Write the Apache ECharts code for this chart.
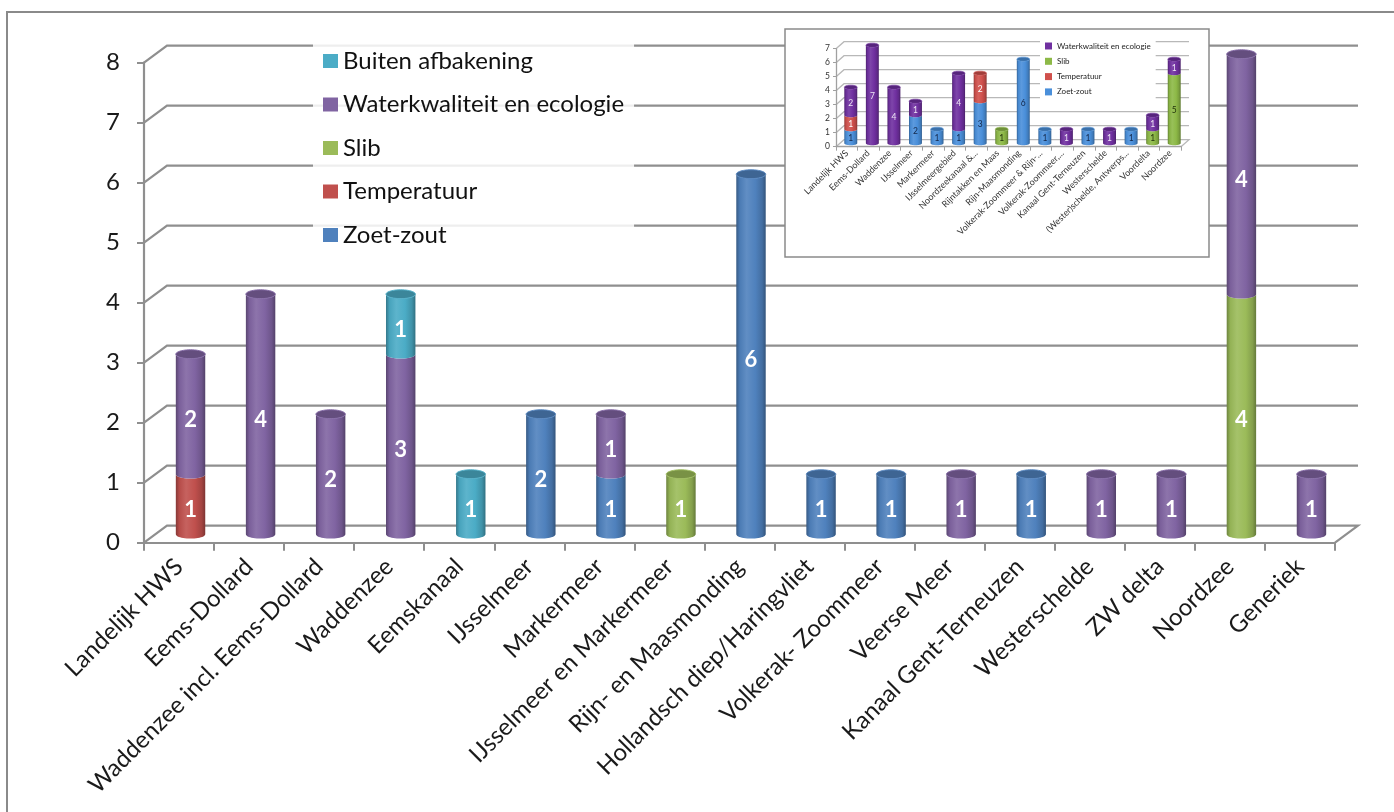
<!DOCTYPE html>
<html><head><meta charset="utf-8">
<script src="https://cdn.jsdelivr.net/npm/echarts@6/dist/echarts.min.js"></script>
<style>html,body{margin:0;padding:0;background:#fff}#c{width:1394px;height:812px}</style>
</head><body><div id="c"></div>
<script>
// ---------- main chart data ----------
const categories = ['Landelijk HWS','Eems-Dollard','Waddenzee incl. Eems-Dollard','Waddenzee','Eemskanaal','IJsselmeer','Markermeer','IJsselmeer en Markermeer','Rijn- en Maasmonding','Hollandsch diep/Haringvliet','Volkerak- Zoommeer','Veerse Meer','Kanaal Gent-Terneuzen','Westerschelde','ZW delta','Noordzee','Generiek'];
const zoetZout         = [0,0,0,0,0,2,1,0,6,1,1,0,1,0,0,0,0];
const temperatuur      = [1,0,0,0,0,0,0,0,0,0,0,0,0,0,0,0,0];
const slib             = [0,0,0,0,0,0,0,1,0,0,0,0,0,0,0,4,0];
const waterkwaliteit   = [2,4,2,3,0,0,1,0,0,0,0,1,0,1,1,4,1];
const buitenAfbakening = [0,0,0,1,1,0,0,0,0,0,0,0,0,0,0,0,0];
const yTicks = [0,1,2,3,4,5,6,7,8];

// ---------- inset chart data ----------
const insetCategories = ['Landelijk HWS','Eems-Dollard','Waddenzee','IJsselmeer','Markermeer','IJsselmeergebied','Noordzeekanaal &...','Rijntakken en Maas','Rijn-Maasmonding','Volkerak-Zoommeer & Rijn-...','Volkerak-Zoommeer,...','Kanaal Gent-Terneuzen','Westerschelde','(Wester)schelde, Antwerps...','Voordelta','Noordzee'];
const insetZoetZout       = [1,0,0,2,1,1,3,0,6,1,0,1,0,1,0,0];
const insetTemperatuur    = [1,0,0,0,0,0,2,0,0,0,0,0,0,0,0,0];
const insetSlib           = [0,0,0,0,0,0,0,1,0,0,0,0,0,0,1,5];
const insetWaterkwaliteit = [2,7,4,1,0,4,0,0,0,0,1,0,1,0,1,1];
const insetYTicks = [0,1,2,3,4,5,6,7];

// ---------- helpers ----------
function shade(hex, amt){
  const n = parseInt(hex.slice(1),16);
  let r=(n>>16)&255,g=(n>>8)&255,b=n&255;
  const t = amt<0?0:255, p=Math.abs(amt);
  r=Math.round(r+(t-r)*p); g=Math.round(g+(t-g)*p); b=Math.round(b+(t-b)*p);
  return 'rgb('+r+','+g+','+b+')';
}
function stackData(list){
  const n = list[0].values.length;
  const base = new Array(n).fill(0);
  const topIdx = new Array(n).fill(-1);
  list.forEach((s,si)=>s.values.forEach((v,i)=>{ if(v>0) topIdx[i]=si; }));
  return list.map((s,si)=>{
    const d=[];
    s.values.forEach((v,i)=>{ if(v>0){ d.push([i, base[i], v, topIdx[i]===si?1:0]); } base[i]+=v; });
    return d;
  });
}
function makeCyl(cfg){
  return function(params, api){
    const i=api.value(0), b=api.value(1), v=api.value(2), isTop=api.value(3);
    const p0=api.coord([i,b]), p1=api.coord([i,b+v]);
    const w=api.size([1,0])[0]*cfg.wr;
    const rx=w/2, ry=w*cfg.ryr;
    const cx=p0[0]+cfg.dx/2, yb=p0[1]-cfg.dy/2, yt=p1[1]-cfg.dy/2;
    const N=24, pts=[[cx-rx,yt]];
    for(let k=0;k<=N;k++){const a=Math.PI*(1-k/N); pts.push([cx+rx*Math.cos(a), yb+ry*Math.sin(a)]);}
    for(let k=0;k<=N;k++){const a=Math.PI*k/N; pts.push([cx+rx*Math.cos(a), yt+ry*Math.sin(a)]);}
    const c=cfg.color;
    const children=[{
      type:'polygon', shape:{points:pts},
      style:{fill:new echarts.graphic.LinearGradient(0,0,1,0,[
        {offset:0,color:shade(c,-0.3)},{offset:0.12,color:shade(c,-0.05)},
        {offset:0.35,color:shade(c,0.1)},{offset:0.65,color:c},
        {offset:0.88,color:shade(c,-0.15)},{offset:1,color:shade(c,-0.35)}])}
    }];
    if(isTop){
      const cap=[];
      for(let k=0;k<2*N;k++){const a=Math.PI*k/N; cap.push([cx+rx*Math.cos(a), yt+ry*Math.sin(a)]);}
      children.push({type:'polygon', shape:{points:cap},
        style:{fill:shade(c,-0.22), stroke:shade(c,0.05), lineWidth:cfg.capLw}});
    }
    children.push({type:'text', z2:10, style:{text:String(v), x:cx, y:(yt+yb)/2+ry+cfg.labelDy,
      align:'center', verticalAlign:'middle', fill:cfg.labelColor,
      fontSize:cfg.fontSize, fontWeight:cfg.fontWeight, fontFamily:'Lato'}});
    return {type:'group', children};
  };
}
function makeFrame(cfg){
  return function(params, api){
    const cs=params.coordSys; const v=api.value(1);
    const y=api.coord([0,v])[1]; const x0=cs.x, x1=cs.x+cs.width;
    const pts=[[x0,y],[x0+cfg.dx,y-cfg.dy],[x1+cfg.dx,y-cfg.dy]];
    if(v===0) pts.push([x1,y]);
    return {type:'polyline', shape:{points:pts}, style:{stroke:cfg.color, lineWidth:cfg.lw, fill:null}};
  };
}

// ---------- build series ----------
const MAIN = {dx:23, dy:17};
const mainDefs = [
  {name:'Zoet-zout', values:zoetZout, color:'#4F81BD'},
  {name:'Temperatuur', values:temperatuur, color:'#C0504D'},
  {name:'Slib', values:slib, color:'#9BBB59'},
  {name:'Waterkwaliteit en ecologie', values:waterkwaliteit, color:'#8064A2'},
  {name:'Buiten afbakening', values:buitenAfbakening, color:'#4BACC6'}
];
const mainStacks = stackData(mainDefs);
const INS = {dx:8, dy:7};
const insetDefs = [
  {name:'Zoet-zout', values:insetZoetZout, color:'#4A8FDA', label:'#14284a'},
  {name:'Temperatuur', values:insetTemperatuur, color:'#D0504C', label:'#ffffff'},
  {name:'Slib', values:insetSlib, color:'#8DB947', label:'#23340c'},
  {name:'Waterkwaliteit en ecologie', values:insetWaterkwaliteit, color:'#7030A0', label:'#eee6f5'}
];
const insetStacks = stackData(insetDefs);
const PFX = 'inset|';

const series = [];
series.push({type:'custom', name:'frame', xAxisIndex:0, yAxisIndex:0, z:1, silent:true,
  data:yTicks.map(v=>[0,v]), encode:{x:0,y:1},
  renderItem:makeFrame({dx:MAIN.dx, dy:MAIN.dy, color:'#8f8f8f', lw:2.2})});
mainDefs.forEach((s,si)=>series.push({type:'custom', name:s.name, xAxisIndex:0, yAxisIndex:0, z:2,
  itemStyle:{color:s.color}, data:mainStacks[si], encode:{x:0,y:[1,2]},
  renderItem:makeCyl({dx:MAIN.dx, dy:MAIN.dy, wr:0.42, ryr:0.15, color:s.color, capLw:1,
    labelColor:'#ffffff', fontSize:22, fontWeight:'bold', labelDy:1})}));
series.push({type:'custom', name:'insetframe', xAxisIndex:1, yAxisIndex:1, z:12, silent:true,
  data:insetYTicks.map(v=>[0,v]), encode:{x:0,y:1},
  renderItem:makeFrame({dx:INS.dx, dy:INS.dy, color:'#b8b8b8', lw:1.3})});
insetDefs.forEach((s,si)=>series.push({type:'custom', name:PFX+s.name, xAxisIndex:1, yAxisIndex:1, z:13,
  itemStyle:{color:s.color}, data:insetStacks[si], encode:{x:0,y:[1,2]},
  renderItem:makeCyl({dx:INS.dx, dy:INS.dy, wr:0.6, ryr:0.16, color:s.color, capLw:0.6,
    labelColor:s.label, fontSize:8.5, fontWeight:'normal', labelDy:0})}));

const axisGrey = '#8f8f8f';
const option = {
  animation:false,
  backgroundColor:'#ffffff',
  graphic:[
    {type:'rect', z:0, shape:{x:7,y:12,width:1400,height:820}, style:{fill:null, stroke:'#8a8a8a', lineWidth:2}, silent:true},
    {type:'rect', z:10, zlevel:0, shape:{x:785,y:29,width:424,height:228}, style:{fill:'#ffffff', stroke:'#8a8a8a', lineWidth:1.5}, silent:true}
  ],
  grid:[
    {left:144, right:59, top:62.7, bottom:269.3},
    {left:836, right:213, top:48.7, bottom:665.3}
  ],
  legend:[
    {data:['Buiten afbakening','Waterkwaliteit en ecologie','Slib','Temperatuur','Zoet-zout'],
     orient:'vertical', left:313, top:44, padding:[5,10,5,10], z:5,
     backgroundColor:'rgba(255,255,255,0.85)', icon:'rect', itemWidth:15, itemHeight:14, itemGap:19.5,
     textStyle:{fontFamily:'Lato', fontSize:24, color:'#111', lineHeight:24}, selectedMode:false},
    {data:['Waterkwaliteit en ecologie','Slib','Temperatuur','Zoet-zout'].map(n=>PFX+n),
     formatter:n=>n.slice(PFX.length),
     orient:'vertical', left:1040, top:38, padding:[3,5,3,5], z:14,
     backgroundColor:'#ffffff', icon:'rect', itemWidth:7, itemHeight:7, itemGap:5.3,
     textStyle:{fontFamily:'Lato', fontSize:8, color:'#222', lineHeight:10}, selectedMode:false}
  ],
  xAxis:[
    {type:'category', gridIndex:0, data:categories, boundaryGap:true, z:3,
     axisLine:{show:true, lineStyle:{color:axisGrey, width:2.2}},
     axisTick:{show:true, length:8, interval:0, alignWithLabel:false, lineStyle:{color:axisGrey, width:2}},
     axisLabel:{interval:0, rotate:45, margin:20, fontFamily:'Lato', fontSize:24, color:'#1a1a1a'},
     splitLine:{show:false}},
    {type:'category', gridIndex:1, data:insetCategories, boundaryGap:true, z:12,
     axisLine:{show:true, lineStyle:{color:'#a0a0a0', width:1.3}},
     axisTick:{show:true, length:4, interval:0, lineStyle:{color:'#a0a0a0', width:1}},
     axisLabel:{interval:0, rotate:45, margin:5, fontFamily:'Lato', fontSize:9, color:'#333'},
     splitLine:{show:false}}
  ],
  yAxis:[
    {type:'value', gridIndex:0, min:0, max:8, interval:1, z:3,
     axisLine:{show:true, lineStyle:{color:axisGrey, width:2.2}},
     axisTick:{show:true, length:7, lineStyle:{color:axisGrey, width:2}},
     axisLabel:{margin:24, fontFamily:'Lato', fontSize:24, color:'#1a1a1a'},
     splitLine:{show:false}},
    {type:'value', gridIndex:1, min:0, max:7, interval:1, z:12,
     axisLine:{show:true, lineStyle:{color:'#a0a0a0', width:1.3}},
     axisTick:{show:true, length:3, lineStyle:{color:'#a0a0a0', width:1}},
     axisLabel:{margin:6, fontFamily:'Lato', fontSize:8.5, color:'#333'},
     splitLine:{show:false}}
  ],
  series
};
const chart = echarts.init(document.getElementById('c'));
chart.setOption(option);
</script>
</body></html>
